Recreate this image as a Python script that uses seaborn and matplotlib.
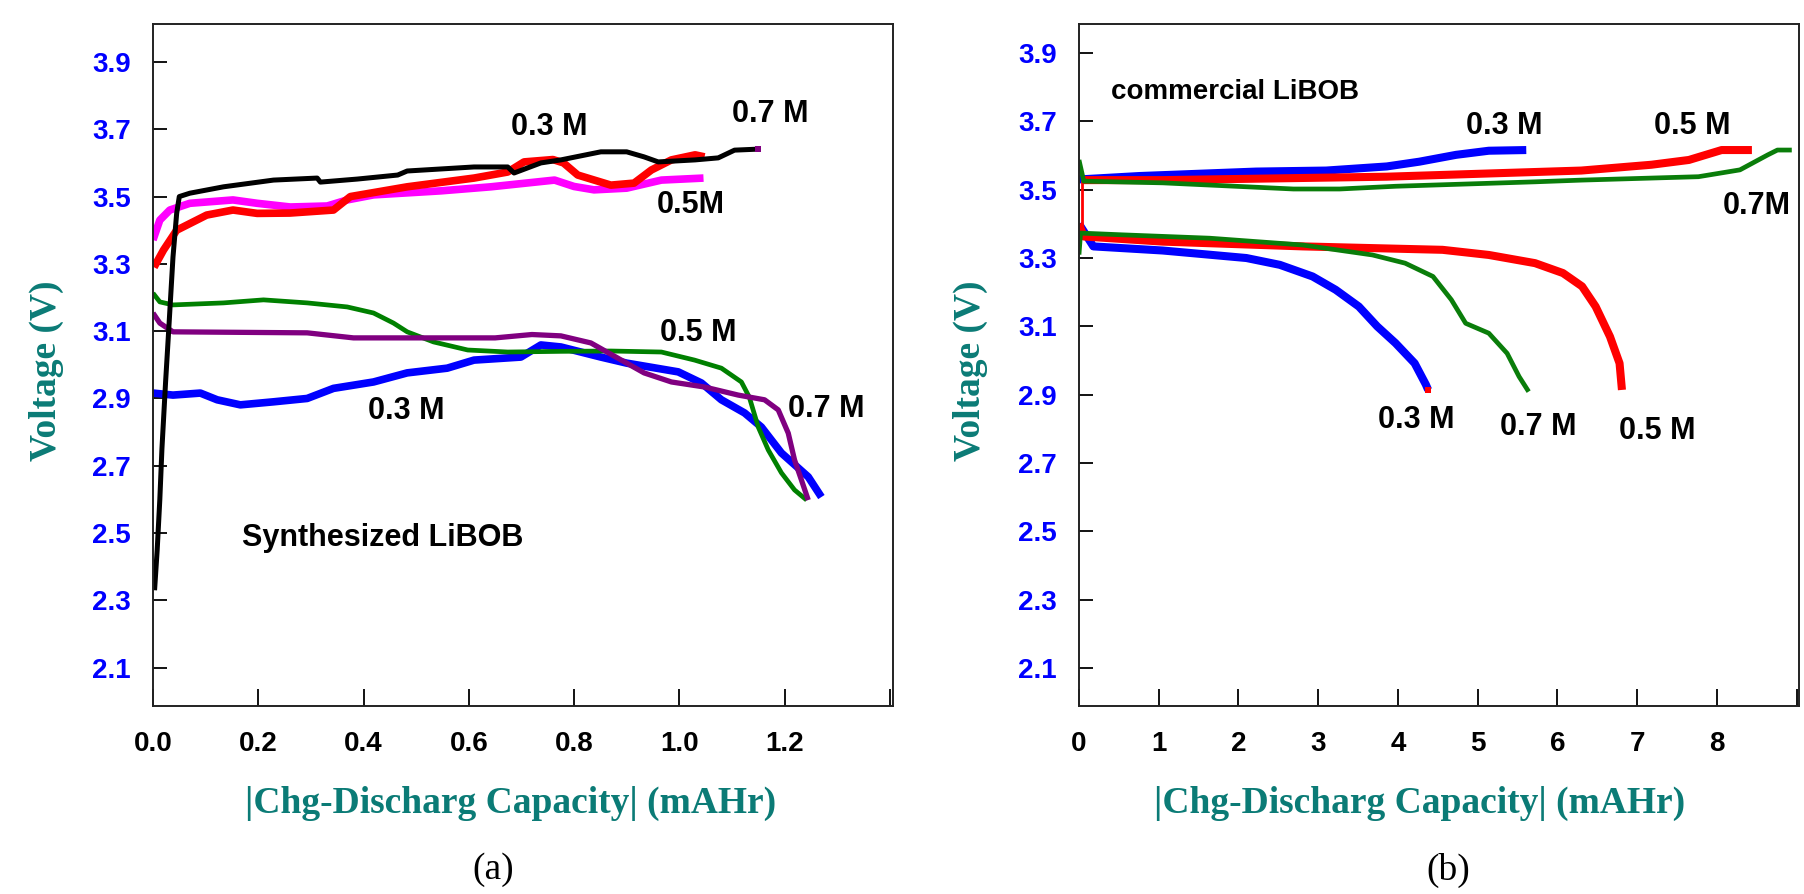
import matplotlib
matplotlib.use('Agg')
import matplotlib.pyplot as plt
import seaborn as sns

# ---- panel (a): synthesized LiBOB, capacity in mAHr, voltage in V ----
a_black_x = [0.003, 0.008, 0.013, 0.017, 0.024, 0.029, 0.038, 0.045, 0.05, 0.07, 0.134, 0.229,
             0.312, 0.318, 0.388, 0.465, 0.483, 0.61, 0.674, 0.686, 0.737, 0.775, 0.851, 0.90,
             0.933, 0.96, 1.03, 1.074, 1.105, 1.15]
a_black_y = [2.33, 2.45, 2.60, 2.75, 2.95, 3.08, 3.32, 3.45, 3.50, 3.51, 3.529, 3.549,
             3.555, 3.543, 3.552, 3.564, 3.576, 3.588, 3.588, 3.57, 3.60, 3.609, 3.633, 3.633,
             3.618, 3.603, 3.609, 3.615, 3.638, 3.641]

a_red_x = [0.002, 0.02, 0.045, 0.102, 0.152, 0.198, 0.26, 0.343, 0.375, 0.483, 0.61, 0.674,
           0.705, 0.76, 0.78, 0.807, 0.87, 0.914, 0.947, 0.985, 1.03, 1.048]
a_red_y = [3.29, 3.341, 3.40, 3.445, 3.46, 3.45, 3.451, 3.46, 3.50, 3.529, 3.555, 3.573,
           3.603, 3.61, 3.60, 3.564, 3.534, 3.54, 3.579, 3.609, 3.624, 3.618]

a_magenta_x = [0.0, 0.013, 0.032, 0.07, 0.152, 0.198, 0.261, 0.331, 0.369, 0.419, 0.547, 0.642,
               0.763, 0.80, 0.838, 0.90, 0.966, 1.046]
a_magenta_y = [3.371, 3.43, 3.46, 3.48, 3.49, 3.48, 3.469, 3.472, 3.49, 3.505, 3.517, 3.529,
               3.549, 3.53, 3.52, 3.525, 3.549, 3.555]

a_green_x = [0.0, 0.013, 0.038, 0.134, 0.21, 0.293, 0.369, 0.419, 0.457, 0.483, 0.533, 0.598,
             0.674, 0.775, 0.87, 0.966, 1.029, 1.08, 1.118, 1.133, 1.15, 1.169, 1.194, 1.219, 1.242]
a_green_y = [3.213, 3.187, 3.178, 3.184, 3.193, 3.184, 3.172, 3.154, 3.124, 3.098, 3.068, 3.044,
             3.038, 3.04, 3.041, 3.038, 3.014, 2.99, 2.949, 2.904, 2.815, 2.747, 2.679, 2.628, 2.598]

a_purple_x = [0.0, 0.013, 0.038, 0.293, 0.381, 0.65, 0.72, 0.775, 0.832, 0.883, 0.933, 0.985,
              1.048, 1.112, 1.162, 1.188, 1.207, 1.219, 1.232, 1.245]
a_purple_y = [3.154, 3.124, 3.098, 3.095, 3.08, 3.08, 3.09, 3.086, 3.065, 3.02, 2.976, 2.949,
              2.934, 2.91, 2.896, 2.866, 2.797, 2.717, 2.658, 2.598]

a_blue_x = [0.0, 0.038, 0.09, 0.122, 0.166, 0.229, 0.293, 0.343, 0.419, 0.483, 0.559, 0.61,
            0.699, 0.737, 0.775, 0.851, 0.90, 0.998, 1.042, 1.08, 1.124, 1.156, 1.194, 1.245, 1.27]
a_blue_y = [2.916, 2.91, 2.916, 2.896, 2.881, 2.89, 2.9, 2.93, 2.949, 2.976, 2.99, 3.014,
            3.023, 3.059, 3.053, 3.023, 3.005, 2.979, 2.946, 2.896, 2.857, 2.815, 2.738, 2.667, 2.607]

# ---- panel (b): commercial LiBOB ----
b_blue_ch_x = [0.0, 0.76, 2.22, 3.10, 3.86, 4.27, 4.73, 5.14, 5.61]
b_blue_ch_y = [3.53, 3.54, 3.553, 3.556, 3.568, 3.582, 3.602, 3.614, 3.616]
b_blue_dis_x = [0.0, 0.18, 1.05, 2.1, 2.52, 2.93, 3.22, 3.51, 3.74, 3.97, 4.21, 4.35, 4.38]
b_blue_dis_y = [3.40, 3.334, 3.322, 3.30, 3.28, 3.246, 3.207, 3.158, 3.10, 3.051, 2.992, 2.93, 2.914]

b_red_link_x = [0.04, 0.04]
b_red_link_y = [3.363, 3.528]
b_red_ch_x = [0.04, 1.05, 3.86, 6.3, 7.18, 7.65, 8.06, 8.44]
b_red_ch_y = [3.528, 3.528, 3.538, 3.556, 3.573, 3.587, 3.616, 3.616]
b_red_dis_x = [0.0, 0.06, 1.05, 2.81, 4.56, 5.14, 5.72, 6.07, 6.31, 6.48, 6.66, 6.78, 6.81]
b_red_dis_y = [3.40, 3.363, 3.348, 3.334, 3.324, 3.309, 3.285, 3.256, 3.217, 3.158, 3.07, 2.992, 2.914]

b_green_ch_x = [0.0, 0.06, 1.05, 2.69, 3.27, 3.97, 5.72, 6.3, 7.77, 8.29, 8.64, 8.76, 8.94]
b_green_ch_y = [3.587, 3.525, 3.52, 3.502, 3.502, 3.51, 3.523, 3.528, 3.538, 3.558, 3.602, 3.616, 3.616]
b_green_dis_x = [0.0, 0.02, 0.53, 1.64, 2.81, 3.68, 4.09, 4.44, 4.67, 4.85, 5.14, 5.37, 5.52, 5.64]
b_green_dis_y = [3.31, 3.373, 3.368, 3.358, 3.338, 3.309, 3.285, 3.246, 3.178, 3.109, 3.08, 3.021, 2.953, 2.909]

volt_ticks = [2.1, 2.3, 2.5, 2.7, 2.9, 3.1, 3.3, 3.5, 3.7, 3.9]
a_xticks = [0.0, 0.2, 0.4, 0.6, 0.8, 1.0, 1.2, 1.4]
a_xtick_labels = ['0.0', '0.2', '0.4', '0.6', '0.8', '1.0', '1.2', '']
b_xticks = [0, 1, 2, 3, 4, 5, 6, 7, 8, 9]
b_xtick_labels = ['0', '1', '2', '3', '4', '5', '6', '7', '8', '']

teal = '#0b7b76'

sns.set_theme(style='white')
plt.rcParams['font.family'] = ['Liberation Sans', 'DejaVu Sans']

fig = plt.figure(figsize=(18.04, 8.94), dpi=100)
ax_a = fig.add_axes([0.0848, 0.2103, 0.4102, 0.7629])
ax_b = fig.add_axes([0.5981, 0.2103, 0.3991, 0.7629])


def curve(ax, x, y, color, lw):
    sns.lineplot(x=x, y=y, ax=ax, color=color, linewidth=lw, sort=False,
                 estimator=None, solid_capstyle='butt')


def end_dot(ax, x, y, color):
    # small square the instrument left at the end of a trace
    sns.scatterplot(x=[x[-1]], y=[y[-1]], ax=ax, color=color, marker='s', s=22,
                    linewidth=0, zorder=5)


def style(ax, xlim, ylim, xticks, xlabels):
    ax.set_xlim(xlim)
    ax.set_ylim(ylim)
    ax.set_xticks(xticks)
    ax.set_xticklabels(xlabels)
    ax.set_yticks(volt_ticks)
    ax.set_yticklabels([f'{v:.1f}' for v in volt_ticks])
    ax.tick_params(axis='x', bottom=True, direction='in', length=12, width=1.3, pad=18,
                   labelsize=20, colors='black')
    ax.tick_params(axis='y', left=True, direction='in', length=10, width=1.3, pad=16,
                   labelsize=20, labelcolor='#0000ff', color='black')
    for lab in ax.get_xticklabels() + ax.get_yticklabels():
        lab.set_fontweight('bold')
    for s in ax.spines.values():
        s.set_color('#222222')
        s.set_linewidth(1.4)
    ax.set_xlabel('')
    ax.set_ylabel('')


# panel (a)
curve(ax_a, a_blue_x, a_blue_y, '#0000ff', 5.5)
curve(ax_a, a_green_x, a_green_y, '#008000', 3.4)
curve(ax_a, a_purple_x, a_purple_y, '#800080', 3.8)
curve(ax_a, a_magenta_x, a_magenta_y, '#ff00ff', 5.5)
curve(ax_a, a_red_x, a_red_y, '#ff0000', 5.5)
curve(ax_a, a_black_x, a_black_y, '#000000', 3.6)
end_dot(ax_a, a_black_x, a_black_y, '#800080')
style(ax_a, (0, 1.406), (1.986, 4.013), a_xticks, a_xtick_labels)

note = dict(ha='center', va='center', fontsize=22, fontweight='bold', color='black')
ax_a.text(0.752, 3.707, '0.3 M', **note)
ax_a.text(1.173, 3.745, '0.7 M', **note)
ax_a.text(1.021, 3.475, '0.5M', **note)
ax_a.text(1.036, 3.095, '0.5 M', **note)
ax_a.text(0.482, 2.863, '0.3 M', **note)
ax_a.text(1.280, 2.869, '0.7 M', **note)
ax_a.text(0.437, 2.485, 'Synthesized LiBOB', **note)

# panel (b)
curve(ax_b, b_blue_ch_x, b_blue_ch_y, '#0000ff', 5.8)
curve(ax_b, b_blue_dis_x, b_blue_dis_y, '#0000ff', 5.8)
curve(ax_b, b_red_link_x, b_red_link_y, '#ff0000', 2.0)
curve(ax_b, b_red_ch_x, b_red_ch_y, '#ff0000', 5.8)
curve(ax_b, b_red_dis_x, b_red_dis_y, '#ff0000', 5.8)
curve(ax_b, b_green_ch_x, b_green_ch_y, '#0a7d0a', 3.4)
curve(ax_b, b_green_dis_x, b_green_dis_y, '#0a7d0a', 3.4)
end_dot(ax_b, b_blue_dis_x, b_blue_dis_y, '#ff0000')
style(ax_b, (0, 9.03), (1.989, 3.985), b_xticks, b_xtick_labels)

ax_b.text(1.956, 3.786, 'commercial LiBOB', ha='center', va='center', fontsize=20,
          fontweight='bold', color='black')
ax_b.text(5.33, 3.685, '0.3 M', **note)
ax_b.text(7.69, 3.685, '0.5 M', **note)
ax_b.text(8.50, 3.452, '0.7M', **note)
ax_b.text(4.23, 2.826, '0.3 M', **note)
ax_b.text(5.76, 2.805, '0.7 M', **note)
ax_b.text(7.25, 2.794, '0.5 M', **note)

# axis titles and panel captions
lab = dict(family=['Liberation Serif', 'DejaVu Serif'], fontweight='bold', fontsize=27,
           color=teal, ha='center', va='center')
fig.text(0.0255, 0.585, 'Voltage (V)', rotation=90, **lab)
fig.text(0.5382, 0.585, 'Voltage (V)', rotation=90, **lab)
fig.text(0.2830, 0.1018, '|Chg-Discharg Capacity| (mAHr)', **lab)
fig.text(0.7871, 0.1018, '|Chg-Discharg Capacity| (mAHr)', **lab)

cap = dict(family=['Liberation Serif', 'DejaVu Serif'], fontsize=27, color='black',
           ha='center', va='center')
fig.text(0.2733, 0.0268, '(a)', **cap)
fig.text(0.8027, 0.0268, '(b)', **cap)

fig.savefig('out.png', dpi=100, facecolor='white')
